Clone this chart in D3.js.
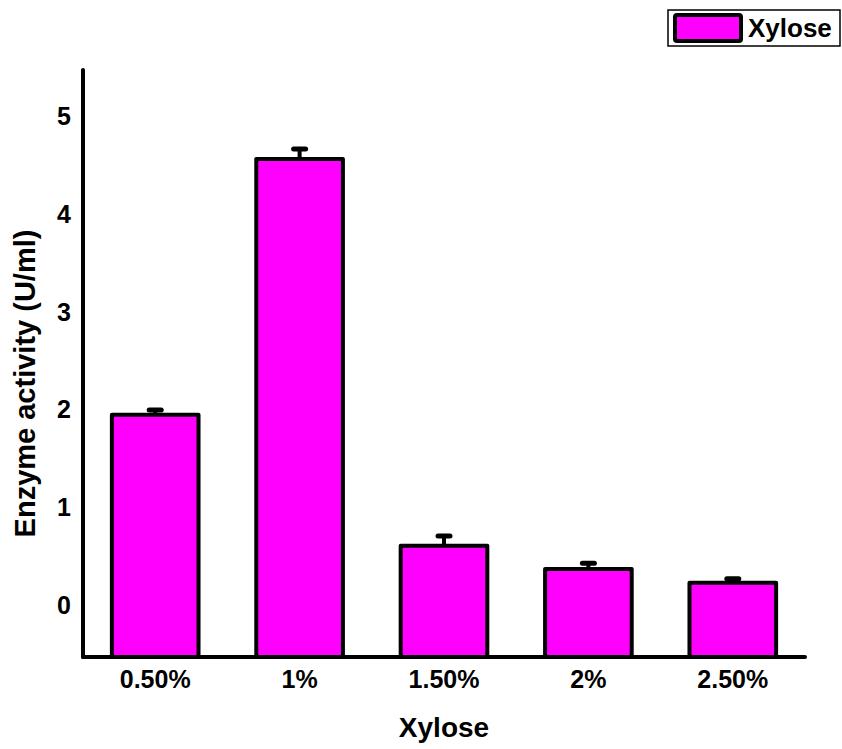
<!DOCTYPE html>
<html>
<head>
<meta charset="utf-8">
<script src="https://cdn.jsdelivr.net/npm/d3@7"></script>
<style>
  body { margin: 0; background: #fff; }
  text { font-family: Arial, "Liberation Sans", sans-serif; font-weight: bold; fill: #000; }
</style>
</head>
<body>
<div id="chart"></div>
<script>
// data
var categories = ["0.50%", "1%", "1.50%", "2%", "2.50%"];
var activity = [1.95, 4.57, 0.61, 0.37, 0.23];
var errors = [0.05, 0.1, 0.1, 0.06, 0.04];
var yTicks = [0, 1, 2, 3, 4, 5];

var svgWidth = 842;
var svgHeight = 749;

var margin = { top: 70, right: 37, bottom: 92, left: 83 };
var width = svgWidth - margin.left - margin.right;
var height = svgHeight - margin.top - margin.bottom;

var svg = d3.select("#chart")
  .append("svg")
  .attr("width", svgWidth)
  .attr("height", svgHeight);

var chartGroup = svg.append("g")
  .attr("transform", `translate(${margin.left}, ${margin.top})`);

var xScale = d3.scaleBand()
  .domain(categories)
  .range([0, width])
  .paddingInner(0.4)
  .paddingOuter(0.2);

var yScale = d3.scaleLinear()
  .domain([-0.53, 5.48])
  .range([height, 0]);

// bars
chartGroup.selectAll(".bar")
  .data(activity)
  .enter()
  .append("rect")
  .attr("class", "bar")
  .attr("x", (d, i) => xScale(categories[i]))
  .attr("y", d => yScale(d))
  .attr("width", xScale.bandwidth())
  .attr("height", d => height - yScale(d))
  .attr("fill", "#ff00ff")
  .attr("stroke", "#000")
  .attr("stroke-width", 4)
  .attr("stroke-linejoin", "round");

// error bars
var errGroup = chartGroup.selectAll(".err")
  .data(activity)
  .enter()
  .append("g")
  .attr("class", "err");

errGroup.append("line")
  .attr("x1", (d, i) => xScale(categories[i]) + xScale.bandwidth() / 2)
  .attr("x2", (d, i) => xScale(categories[i]) + xScale.bandwidth() / 2)
  .attr("y1", d => yScale(d))
  .attr("y2", (d, i) => yScale(d + errors[i]))
  .attr("stroke", "#000")
  .attr("stroke-width", 4);

errGroup.append("line")
  .attr("x1", (d, i) => xScale(categories[i]) + xScale.bandwidth() / 2 - 6)
  .attr("x2", (d, i) => xScale(categories[i]) + xScale.bandwidth() / 2 + 6)
  .attr("y1", (d, i) => yScale(d + errors[i]))
  .attr("y2", (d, i) => yScale(d + errors[i]))
  .attr("stroke", "#000")
  .attr("stroke-width", 5)
  .attr("stroke-linecap", "round");

// axes (lines only, no tick marks)
var leftAxis = d3.axisLeft(yScale).tickValues(yTicks).tickFormat(d3.format("d")).tickSize(0).tickPadding(12);
var bottomAxis = d3.axisBottom(xScale).tickSize(0).tickPadding(13);

var yAxisG = chartGroup.append("g").call(leftAxis);
yAxisG.select(".domain").remove();
yAxisG.selectAll("text")
  .style("font-size", "25px")
  .style("font-family", "Arial, 'Liberation Sans', sans-serif")
  .style("font-weight", "bold");

var xAxisG = chartGroup.append("g")
  .attr("transform", `translate(0, ${height})`)
  .call(bottomAxis);
xAxisG.select(".domain").remove();
xAxisG.selectAll("text")
  .style("font-size", "25px")
  .style("font-family", "Arial, 'Liberation Sans', sans-serif")
  .style("font-weight", "bold");

chartGroup.append("line")
  .attr("x1", 0).attr("x2", 0)
  .attr("y1", 0).attr("y2", height)
  .attr("stroke", "#000")
  .attr("stroke-width", 4)
  .attr("stroke-linecap", "round");

chartGroup.append("line")
  .attr("x1", 0).attr("x2", width)
  .attr("y1", height).attr("y2", height)
  .attr("stroke", "#000")
  .attr("stroke-width", 4)
  .attr("stroke-linecap", "round");

// axis labels
chartGroup.append("text")
  .attr("transform", "rotate(-90)")
  .attr("x", 0 - (yScale(2.27)))
  .attr("y", 0 - margin.left + 35)
  .attr("text-anchor", "middle")
  .style("font-size", "29px")
  .text("Enzyme activity (U/ml)");

chartGroup.append("text")
  .attr("x", width / 2)
  .attr("y", height + 80)
  .attr("text-anchor", "middle")
  .style("font-size", "28px")
  .text("Xylose");

// legend
var legend = svg.append("g").attr("transform", "translate(668, 10)");
legend.append("rect")
  .attr("width", 172).attr("height", 36)
  .attr("fill", "#fff")
  .attr("stroke", "#000")
  .attr("stroke-width", 1.5);
legend.append("rect")
  .attr("x", 7).attr("y", 5)
  .attr("width", 66).attr("height", 26)
  .attr("rx", 2)
  .attr("fill", "#ff00ff")
  .attr("stroke", "#000")
  .attr("stroke-width", 4)
  .attr("stroke-linejoin", "round");
legend.append("text")
  .attr("x", 80).attr("y", 27)
  .style("font-size", "26px")
  .text("Xylose");
</script>
</body>
</html>
